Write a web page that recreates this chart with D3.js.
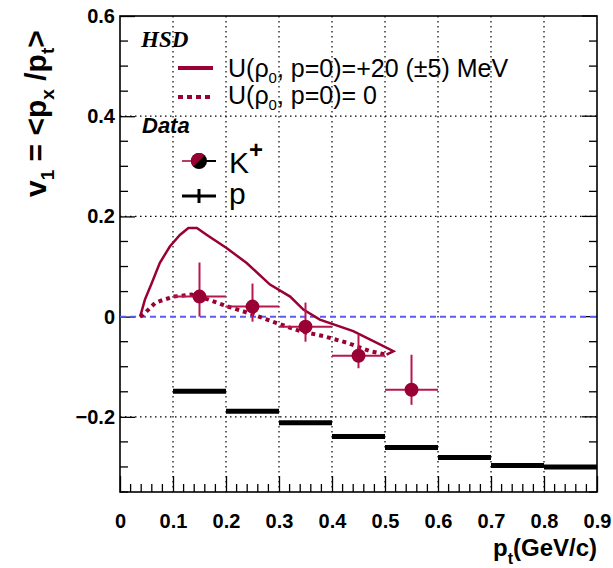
<!DOCTYPE html>
<html><head><meta charset="utf-8">
<script src="https://cdn.jsdelivr.net/npm/d3@7"></script>
<style>body{margin:0;background:#fff}svg{display:block}</style>
</head><body>
<script>
// ---- data ----
const kaonPt = [0.15, 0.25, 0.35, 0.45, 0.55];
const kaonV1 = [0.040, 0.020, -0.020, -0.078, -0.146];
const kaonErrUp = [0.068, 0.046, 0.048, 0.042, 0.070];
const kaonErrDn = [0.040, 0.030, 0.030, 0.025, 0.030];
const binHalf = 0.05;

const protonLo = [0.1, 0.2, 0.3, 0.4, 0.5, 0.6, 0.7, 0.8];
const protonHi = [0.2, 0.3, 0.4, 0.5, 0.6, 0.7, 0.8, 0.9];
const protonV1 = [-0.149, -0.189, -0.212, -0.239, -0.261, -0.281, -0.297, -0.300];

const hsd20X = [0.038, 0.047, 0.060, 0.075, 0.094, 0.113, 0.129, 0.145, 0.164, 0.201, 0.239, 0.283, 0.321, 0.346, 0.377, 0.440, 0.478, 0.516, 0.503];
const hsd20Y = [0.000, 0.034, 0.067, 0.107, 0.140, 0.163, 0.177, 0.177, 0.163, 0.137, 0.107, 0.064, 0.040, 0.014, -0.006, -0.029, -0.049, -0.069, -0.076];
const hsd0X = [0.038, 0.044, 0.066, 0.075, 0.101, 0.135, 0.167, 0.201, 0.252, 0.296, 0.340, 0.384, 0.428, 0.472, 0.503];
const hsd0Y = [0.000, 0.004, 0.027, 0.031, 0.040, 0.044, 0.034, 0.021, 0.004, -0.013, -0.029, -0.039, -0.052, -0.069, -0.076];

const xTicks = [0, 0.1, 0.2, 0.3, 0.4, 0.5, 0.6, 0.7, 0.8, 0.9];
const yTicks = [-0.2, 0, 0.2, 0.4, 0.6];

// ---- layout ----
const W = 613, H = 568;
const L = 120, R = 597, T = 16, B = 492;
const red = "#990033", redLight = "#b81650";
const x = d3.scaleLinear().domain([0, 0.9]).range([L, R]);
const y = d3.scaleLinear().domain([-0.35, 0.6]).range([B, T]);

const svg = d3.select("body").append("svg").attr("width", W).attr("height", H)
  .style("font-family", "'Liberation Sans', Arial, sans-serif");

// grid
const g = svg.append("g").attr("stroke", "#000").attr("stroke-width", 1.2).attr("stroke-dasharray", "1.5,3.5");
xTicks.filter(v => v > 0 && v < 0.9).forEach(v => {
  g.append("line").attr("x1", x(v)).attr("x2", x(v)).attr("y1", T).attr("y2", B);
});
yTicks.filter(v => v !== 0 && v < 0.6).forEach(v => {
  g.append("line").attr("x1", L).attr("x2", R).attr("y1", y(v)).attr("y2", y(v));
});

// axes
const xAxis = d3.axisBottom(x).tickValues(xTicks).tickSize(16).tickPadding(6)
  .tickFormat(d => d === 0 ? "0" : d3.format(".1f")(d));
const xa = svg.append("g").attr("transform", `translate(0,${B})`).call(xAxis);
xa.selectAll(".tick line").attr("transform", "translate(0,-16)");
const xMinor = d3.range(0, 0.9001, 0.02).filter(v => Math.abs(v*10 - Math.round(v*10)) > 1e-6);
xa.selectAll(".minor").data(xMinor).enter().append("line")
  .attr("x1", d => x(d)).attr("x2", d => x(d)).attr("y1", 0).attr("y2", -8).attr("stroke", "#000").attr("stroke-width", 1.3);

const yAxis = d3.axisLeft(y).tickValues(yTicks).tickSize(15).tickPadding(5)
  .tickFormat(d => d === 0 ? "0" : d3.format(".1f")(d));
const ya = svg.append("g").attr("transform", `translate(${L},0)`).call(yAxis);
ya.selectAll(".tick line").attr("transform", "translate(15,0)");
const yMinor = d3.range(-0.35, 0.6001, 0.05).filter(v => Math.abs(v*5 - Math.round(v*5)) > 1e-6);
ya.selectAll(".minor").data(yMinor).enter().append("line")
  .attr("x1", 0).attr("x2", 8).attr("y1", d => y(d)).attr("y2", d => y(d)).attr("stroke", "#000").attr("stroke-width", 1.3);
// right-side ticks
const ra = svg.append("g").attr("transform", `translate(${R},0)`);
ra.selectAll(".maj").data(yTicks).enter().append("line")
  .attr("x1", 0).attr("x2", -15).attr("y1", d => y(d)).attr("y2", d => y(d)).attr("stroke", "#000").attr("stroke-width", 1.3);
ra.selectAll(".min").data(yMinor).enter().append("line")
  .attr("x1", 0).attr("x2", -8).attr("y1", d => y(d)).attr("y2", d => y(d)).attr("stroke", "#000").attr("stroke-width", 1.3);

[xa, ya].forEach(a => {
  a.select(".domain").remove();
  a.selectAll(".tick line").attr("stroke-width", 1.3);
  a.selectAll("text").attr("font-size", 20).attr("font-weight", "bold").attr("fill", "#000")
    .attr("font-family", "'Liberation Sans', Arial, sans-serif");
});
ya.selectAll(".tick text").attr("x", -5);

// frame
svg.append("rect").attr("x", L).attr("y", T).attr("width", R - L).attr("height", B - T)
  .attr("fill", "none").attr("stroke", "#000").attr("stroke-width", 1.6);

// zero line
svg.append("line").attr("x1", L).attr("x2", R).attr("y1", y(0)).attr("y2", y(0))
  .attr("stroke", "#5b5bf0").attr("stroke-width", 2).attr("stroke-dasharray", "6,4");

// proton bars
protonV1.forEach((v, i) => {
  svg.append("line").attr("x1", x(protonLo[i])).attr("x2", x(protonHi[i]))
    .attr("y1", y(v)).attr("y2", y(v)).attr("stroke", "#000").attr("stroke-width", 5);
});

// curves
const line = d3.line().x(d => x(d[0])).y(d => y(d[1]));
svg.append("path").attr("d", line(hsd0X.map((v, i) => [v, hsd0Y[i]])))
  .attr("fill", "none").attr("stroke", red).attr("stroke-width", 4).attr("stroke-dasharray", "4,4");
svg.append("path").attr("d", line(hsd20X.map((v, i) => [v, hsd20Y[i]])))
  .attr("fill", "none").attr("stroke", red).attr("stroke-width", 2.5);

// kaon data
kaonPt.forEach((p, i) => {
  const v = kaonV1[i];
  svg.append("line").attr("x1", x(p - binHalf)).attr("x2", x(p + binHalf)).attr("y1", y(v)).attr("y2", y(v))
    .attr("stroke", redLight).attr("stroke-width", 2);
  svg.append("line").attr("x1", x(p)).attr("x2", x(p)).attr("y1", y(v + kaonErrUp[i])).attr("y2", y(v - kaonErrDn[i]))
    .attr("stroke", redLight).attr("stroke-width", 2);
  svg.append("circle").attr("cx", x(p)).attr("cy", y(v)).attr("r", 7).attr("fill", red);
});

// legend
svg.append("text").attr("x", 141).attr("y", 47).text("HSD")
  .attr("font-family", "'Liberation Serif', 'Times New Roman', serif").attr("font-style", "italic")
  .attr("font-weight", "bold").attr("font-size", 23);
svg.append("line").attr("x1", 178).attr("x2", 213).attr("y1", 68).attr("y2", 68).attr("stroke", red).attr("stroke-width", 4);
svg.append("line").attr("x1", 178).attr("x2", 213).attr("y1", 97).attr("y2", 97).attr("stroke", red).attr("stroke-width", 4).attr("stroke-dasharray", "5,4");
const lt1 = svg.append("text").attr("x", 228).attr("y", 77).attr("font-size", 25);
lt1.append("tspan").text("U(ρ");
lt1.append("tspan").text("0").attr("font-size", 15).attr("dy", 6);
lt1.append("tspan").text(", p=0)=+20 (±5) MeV").attr("dy", -6);
const lt2 = svg.append("text").attr("x", 228).attr("y", 104).attr("font-size", 25);
lt2.append("tspan").text("U(ρ");
lt2.append("tspan").text("0").attr("font-size", 15).attr("dy", 6);
lt2.append("tspan").text(", p=0)= 0").attr("dy", -6);
svg.append("text").attr("x", 142).attr("y", 133).text("Data").attr("font-style", "italic")
  .attr("font-weight", "bold").attr("font-size", 22);
// K+ legend marker
svg.append("line").attr("x1", 182).attr("x2", 197).attr("y1", 161).attr("y2", 161).attr("stroke", red).attr("stroke-width", 1.5);
svg.append("line").attr("x1", 197).attr("x2", 216).attr("y1", 161).attr("y2", 161).attr("stroke", "#000").attr("stroke-width", 2);
svg.append("circle").attr("cx", 199).attr("cy", 161).attr("r", 8).attr("fill", "#000");
svg.append("path").attr("d", d3.arc()({innerRadius: 0, outerRadius: 8, startAngle: -Math.PI*3/4, endAngle: Math.PI/4}))
  .attr("transform", "translate(199,161)").attr("fill", red);
const kt = svg.append("text").attr("x", 229).attr("y", 173).attr("font-size", 30);
kt.append("tspan").text("K");
kt.append("tspan").text("+").attr("font-size", 24).attr("dy", -15).attr("font-weight", "bold");
// p legend marker
svg.append("line").attr("x1", 182).attr("x2", 216).attr("y1", 196).attr("y2", 196).attr("stroke", "#000").attr("stroke-width", 3);
svg.append("line").attr("x1", 199).attr("x2", 199).attr("y1", 189).attr("y2", 203).attr("stroke", "#000").attr("stroke-width", 3);
svg.append("text").attr("x", 229).attr("y", 204).attr("font-size", 30).text("p");

// axis titles
const yt = svg.append("text").attr("transform", "translate(46,197) rotate(-90)")
  .attr("font-size", 30).attr("font-weight", "bold");
yt.append("tspan").text("v");
yt.append("tspan").text("1").attr("font-size", 19).attr("dy", 8);
yt.append("tspan").text(" = <p").attr("dy", -8);
yt.append("tspan").text("x").attr("font-size", 19).attr("dy", 8);
yt.append("tspan").text(" /p").attr("dy", -8);
yt.append("tspan").text("t").attr("font-size", 19).attr("dy", 8);
yt.append("tspan").text(">").attr("dy", -8);

const xt = svg.append("text").attr("x", 597).attr("y", 556).attr("text-anchor", "end")
  .attr("font-size", 24).attr("font-weight", "bold");
xt.append("tspan").text("p");
xt.append("tspan").text("t").attr("font-size", 16).attr("dy", 8);
xt.append("tspan").text("(GeV/c)").attr("dy", -8);
</script>
</body></html>
